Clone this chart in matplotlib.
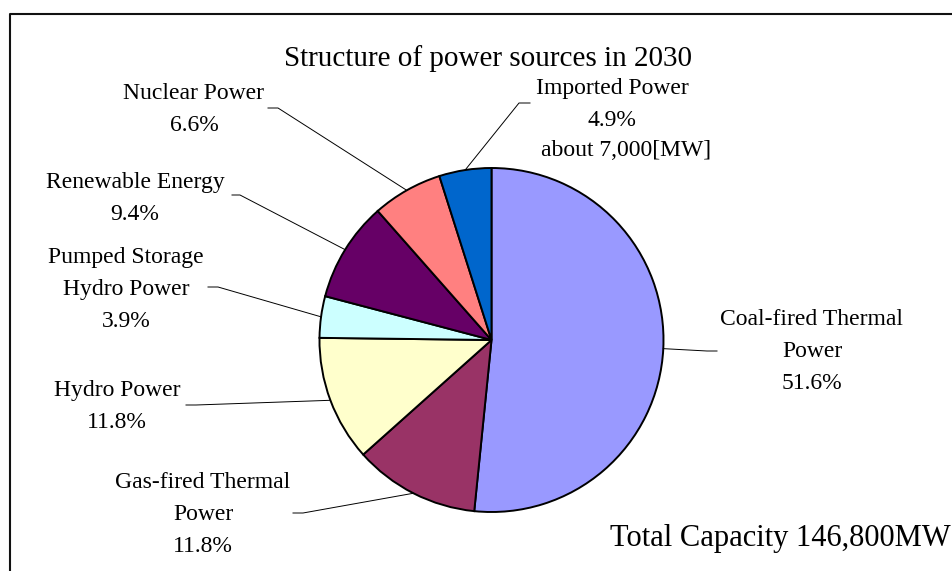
import matplotlib
matplotlib.use('Agg')
import matplotlib.pyplot as plt
import numpy as np

W, H = 953, 571

labels = ['Coal-fired Thermal\nPower', 'Gas-fired Thermal\nPower', 'Hydro Power',
          'Pumped Storage\nHydro Power', 'Renewable Energy', 'Nuclear Power',
          'Imported Power']
shares = [51.6, 11.8, 11.8, 3.9, 9.4, 6.6, 4.9]
colors = ['#9999FF', '#993366', '#FFFFCC', '#CCFFFF', '#660066', '#FF8080', '#0066CC']
title = 'Structure of power sources in 2030'
imported_note = 'about 7,000[MW]'
total_note = 'Total Capacity 146,800MW'

# label anchors (top centre, pixels from top-left) and leader knee / end points
label_pos = [(812, 309), (203, 472), (117, 380), (126, 247), (135, 172), (194, 83), (612, 78)]
leader_pts = [((707, 351), (717, 351)), ((303, 513), (293, 513)), ((196, 405), (186, 405)),
              ((218, 287), (208, 287)), ((240, 195), (232, 195)), ((278, 108), (268, 108)),
              ((519, 103), (530, 103))]

plt.rcParams['font.family'] = ['Liberation Serif', 'DejaVu Serif']
FS = 17


def fy(y):
    # pixel rows count down from the top, the axes counts up
    return H - y


fig = plt.figure(figsize=(W / 100, H / 100), dpi=100)
ax = fig.add_axes([0, 0, 1, 1])

cx, cy, r = 491.5, fy(340), 172
wedges, _ = ax.pie(shares, colors=colors, startangle=90, counterclock=False,
                   center=(cx, cy), radius=r,
                   wedgeprops=dict(edgecolor='black', linewidth=1.4))
ax.set_xlim(0, W)
ax.set_ylim(0, H)
ax.set_aspect('equal')
ax.axis('off')

for w, lab, share, (lx, ly), (knee, end) in zip(wedges, labels, shares, label_pos, leader_pts):
    mid = np.deg2rad((w.theta1 + w.theta2) / 2)
    ex, ey = cx + r * np.cos(mid), cy + r * np.sin(mid)
    ax.plot([ex, knee[0], end[0]], [ey, fy(knee[1]), fy(end[1])],
            color='black', lw=0.7)
    ax.text(lx, fy(ly), f'{lab}\n{share}%', ha='center', va='top',
            fontsize=FS, linespacing=1.68)

ax.text(626, fy(140), imported_note, ha='center', va='top', fontsize=FS)
ax.text(488, fy(45), title, ha='center', va='top', fontsize=21)
ax.text(610, fy(546), total_note, ha='left', va='baseline', fontsize=22)

# chart border, only the left and top edges fall inside the picture
ax.plot([9.7, 9.7, W + 5], [-5, fy(13.5), fy(13.5)], color='#111111', lw=1.5,
        clip_on=False)

fig.savefig('out.png', dpi=100)
